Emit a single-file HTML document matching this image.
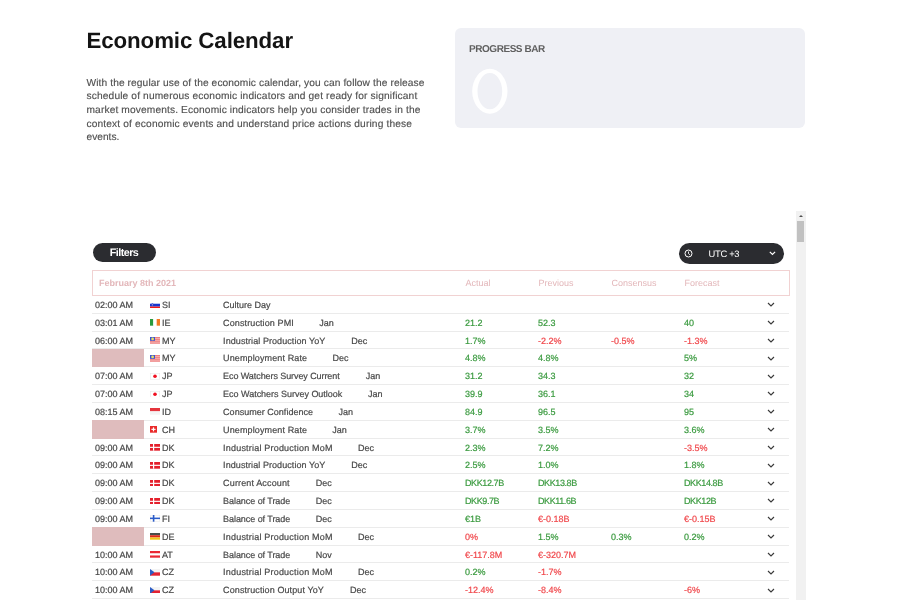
<!DOCTYPE html>
<html>
<head>
<meta charset="utf-8">
<style>
*{box-sizing:border-box;margin:0;padding:0}
#pg{position:absolute;left:0;top:0;width:900px;height:600px;will-change:transform}
html,body{width:900px;height:600px;overflow:hidden;background:#fff;font-family:"Liberation Sans",sans-serif;text-rendering:geometricPrecision}
#title{position:absolute;left:86.5px;top:27.7px;font-size:22.3px;letter-spacing:-0.1px;font-weight:bold;color:#141414;white-space:nowrap;line-height:26px}
#desc{position:absolute;left:86.5px;top:76.6px;font-size:10.2px;line-height:13.65px;color:#505050;white-space:nowrap;-webkit-text-stroke:0.15px}
#pb{position:absolute;left:454.5px;top:28px;width:350.8px;height:100.2px;background:#eff0f5;border-radius:6px}
#pb .lbl{position:absolute;left:14.5px;top:15.6px;font-size:10px;letter-spacing:-0.45px;font-weight:bold;color:#606060;line-height:12px;white-space:nowrap}
#pb .num{position:absolute;left:9.5px;top:34px}
#sb{position:absolute;left:795.5px;top:210.6px;width:10px;height:400px;background:#f1f1f1}
#sb .up{position:absolute;left:3.3px;top:4.1px;width:0;height:0;border-left:2px solid transparent;border-right:2px solid transparent;border-bottom:2.4px solid #505050}
#sb .th{position:absolute;left:1.2px;top:10.2px;width:7.3px;height:21.1px;background:#c1c1c1}
.btn{position:absolute;background:#2b2c30;color:#fff;white-space:nowrap}
#filters{left:92.5px;top:243px;width:63px;height:19px;border-radius:9.5px;padding-top:1px;font-size:10.8px;font-weight:bold;line-height:19px;text-align:center;letter-spacing:-0.55px}
#utc{left:679px;top:242.5px;width:105px;height:21px;border-radius:10.5px;font-size:9.4px;line-height:21px;letter-spacing:-0.3px}
#utc .lab{position:absolute;left:29.5px;top:0}
#utc svg{position:absolute}
#hdr{position:absolute;left:92px;top:269.5px;width:698px;height:26px;border:1px solid #f1d2d2;color:#e3b7ba;font-size:9px;line-height:24px;white-space:nowrap}
#hdr span{position:absolute;top:0}
#hdr .d{left:6px;font-weight:bold}
.row{position:absolute;left:92px;width:697px;height:17.83px;border-bottom:1px solid #ebebeb;font-size:9px;line-height:17px;color:#484848;white-space:nowrap}
.row span{position:absolute;top:1px;-webkit-text-stroke:0.2px}
.row .tm{left:3px}
.row .pk{position:absolute;left:0;top:-0.4px;width:52.4px;height:18.2px;background:#dfbcbd}
.row .fw{left:58px;top:5.5px;line-height:0}
.row .fl{display:block;height:6.7px}
.row .cd{left:70px}
.row .ev{left:131.1px}
.v.g{color:#3a9a3f}
.v.r{color:#f0484c}
.row .chev{position:absolute;left:674.6px;top:6.3px}
</style>
</head>
<body>
<div id="pg">
<div id="title">Economic Calendar</div>
<div id="desc"><div style="letter-spacing:0.1px">With the regular use of the economic calendar, you can follow the release</div><div style="letter-spacing:0.14px">schedule of numerous economic indicators and get ready for significant</div><div style="letter-spacing:0.13px">market movements. Economic indicators help you consider trades in the</div><div style="letter-spacing:0.14px">context of economic events and understand price actions during these</div><div>events.</div></div>
<div id="pb"><div class="lbl">PROGRESS BAR</div><svg class="num" width="52" height="58" viewBox="0 0 52 58"><path fill="#fff" fill-rule="evenodd" d="M8.2 29.25a17.65 22.45 0 1 0 35.3 0a17.65 22.45 0 1 0 -35.3 0Z M13.5 29.2a12.35 18.1 0 1 0 24.7 0a12.35 18.1 0 1 0 -24.7 0Z"/></svg></div>
<div id="sb"><div class="up"></div><div class="th"></div></div>
<div id="filters" class="btn">Filters</div>
<div id="utc" class="btn"><svg style="left:4.5px;top:6.3px" width="9" height="9" viewBox="0 0 9 9"><circle cx="4.5" cy="4.5" r="3.5" fill="none" stroke="#fff" stroke-width="1"/><path d="M4.5 2.5 V4.6 L5.9 5.8" fill="none" stroke="#fff" stroke-width="0.9"/></svg><span class="lab">UTC +3</span><svg style="left:90px;top:8.2px" width="7" height="5" viewBox="0 0 7 5"><path d="M0.8 0.9 L3.45 3.4 L6.1 0.9" fill="none" stroke="#fff" stroke-width="1.25"/></svg></div>
<div id="hdr"><span class="d">February 8th 2021</span><span style="left:372.5px">Actual</span><span style="left:445.5px">Previous</span><span style="left:518.5px">Consensus</span><span style="left:591.5px">Forecast</span></div>
<div class="row" style="top:296.00px"><span class="tm">02:00 AM</span><span class="fw"><svg class="fl" width="10" height="7" viewBox="0 0 10 7" preserveAspectRatio="none"><rect width="10" height="7" fill="#fff"/><rect y="1.8" width="10" height="3" fill="#1537d0"/><rect y="4.8" width="10" height="2.2" fill="#f01818"/><path d="M1.6 1.2 H3.2 V3.6 Q2.4 4.4 1.6 3.6Z" fill="#3a5ad8"/><circle cx="2.4" cy="2.9" r="0.55" fill="#e8b0c0"/></svg></span><span class="cd">SI</span><span class="ev">Culture Day</span><svg class="chev" width="8" height="5" viewBox="0 0 8 5"><path d="M1 1 L4 4 L7 1" fill="none" stroke="#3a3a3a" stroke-width="1.15"/></svg></div>
<div class="row" style="top:313.83px"><span class="tm">03:01 AM</span><span class="fw"><svg class="fl" width="10" height="7" viewBox="0 0 10 7" preserveAspectRatio="none"><rect width="3.33" height="7" fill="#2a9a3c"/><rect x="3.33" width="3.34" height="7" fill="#fff"/><rect x="6.67" width="3.33" height="7" fill="#f47a22"/></svg></span><span class="cd">IE</span><span class="ev" style="letter-spacing:0.11px">Construction PMI</span><span class="pe" style="left:227.3px">Jan</span><span class="v g" style="left:373px">21.2</span><span class="v g" style="left:446px">52.3</span><span class="v g" style="left:592px">40</span><svg class="chev" width="8" height="5" viewBox="0 0 8 5"><path d="M1 1 L4 4 L7 1" fill="none" stroke="#3a3a3a" stroke-width="1.15"/></svg></div>
<div class="row" style="top:331.66px"><span class="tm">06:00 AM</span><span class="fw"><svg class="fl" width="10" height="7" viewBox="0 0 10 7" preserveAspectRatio="none"><rect width="10" height="7" fill="#f4b4b4"/><rect y="0" width="10" height="0.8" fill="#ec7070"/><rect y="2" width="10" height="0.8" fill="#ec7070"/><rect y="4" width="10" height="0.8" fill="#ec7070"/><rect y="6" width="10" height="0.8" fill="#ec7070"/><rect width="5" height="4" fill="#3d55d0"/><circle cx="2.6" cy="2" r="1.4" fill="#e6e060"/></svg></span><span class="cd">MY</span><span class="ev" style="letter-spacing:0.07px">Industrial Production YoY</span><span class="pe" style="left:259.3px">Dec</span><span class="v g" style="left:373px">1.7%</span><span class="v r" style="left:446px">-2.2%</span><span class="v r" style="left:519px">-0.5%</span><span class="v r" style="left:592px">-1.3%</span><svg class="chev" width="8" height="5" viewBox="0 0 8 5"><path d="M1 1 L4 4 L7 1" fill="none" stroke="#3a3a3a" stroke-width="1.15"/></svg></div>
<div class="row" style="top:349.49px"><div class="pk"></div><span class="fw"><svg class="fl" width="10" height="7" viewBox="0 0 10 7" preserveAspectRatio="none"><rect width="10" height="7" fill="#f4b4b4"/><rect y="0" width="10" height="0.8" fill="#ec7070"/><rect y="2" width="10" height="0.8" fill="#ec7070"/><rect y="4" width="10" height="0.8" fill="#ec7070"/><rect y="6" width="10" height="0.8" fill="#ec7070"/><rect width="5" height="4" fill="#3d55d0"/><circle cx="2.6" cy="2" r="1.4" fill="#e6e060"/></svg></span><span class="cd">MY</span><span class="ev" style="letter-spacing:0.12px">Unemployment Rate</span><span class="pe" style="left:240.5px">Dec</span><span class="v g" style="left:373px">4.8%</span><span class="v g" style="left:446px">4.8%</span><span class="v g" style="left:592px">5%</span><svg class="chev" width="8" height="5" viewBox="0 0 8 5"><path d="M1 1 L4 4 L7 1" fill="none" stroke="#3a3a3a" stroke-width="1.15"/></svg></div>
<div class="row" style="top:367.32px"><span class="tm">07:00 AM</span><span class="fw"><svg class="fl" width="10" height="7" viewBox="0 0 10 7" preserveAspectRatio="none"><rect x="0.25" y="0.25" width="9.5" height="6.5" fill="#fff" stroke="#e4e4e4" stroke-width="0.5"/><circle cx="5" cy="3.5" r="1.8" fill="#f01020"/></svg></span><span class="cd">JP</span><span class="ev" style="letter-spacing:-0.08px">Eco Watchers Survey Current</span><span class="pe" style="left:273.8px">Jan</span><span class="v g" style="left:373px">31.2</span><span class="v g" style="left:446px">34.3</span><span class="v g" style="left:592px">32</span><svg class="chev" width="8" height="5" viewBox="0 0 8 5"><path d="M1 1 L4 4 L7 1" fill="none" stroke="#3a3a3a" stroke-width="1.15"/></svg></div>
<div class="row" style="top:385.15px"><span class="tm">07:00 AM</span><span class="fw"><svg class="fl" width="10" height="7" viewBox="0 0 10 7" preserveAspectRatio="none"><rect x="0.25" y="0.25" width="9.5" height="6.5" fill="#fff" stroke="#e4e4e4" stroke-width="0.5"/><circle cx="5" cy="3.5" r="1.8" fill="#f01020"/></svg></span><span class="cd">JP</span><span class="ev" style="letter-spacing:-0.02px">Eco Watchers Survey Outlook</span><span class="pe" style="left:276.0px">Jan</span><span class="v g" style="left:373px">39.9</span><span class="v g" style="left:446px">36.1</span><span class="v g" style="left:592px">34</span><svg class="chev" width="8" height="5" viewBox="0 0 8 5"><path d="M1 1 L4 4 L7 1" fill="none" stroke="#3a3a3a" stroke-width="1.15"/></svg></div>
<div class="row" style="top:402.98px"><span class="tm">08:15 AM</span><span class="fw"><svg class="fl" width="10" height="7" viewBox="0 0 10 7" preserveAspectRatio="none"><rect width="10" height="3.5" fill="#e5353d"/><rect y="3.5" width="10" height="3.5" fill="#f4f4f4"/></svg></span><span class="cd">ID</span><span class="ev" style="letter-spacing:0.02px">Consumer Confidence</span><span class="pe" style="left:246.5px">Jan</span><span class="v g" style="left:373px">84.9</span><span class="v g" style="left:446px">96.5</span><span class="v g" style="left:592px">95</span><svg class="chev" width="8" height="5" viewBox="0 0 8 5"><path d="M1 1 L4 4 L7 1" fill="none" stroke="#3a3a3a" stroke-width="1.15"/></svg></div>
<div class="row" style="top:420.81px"><div class="pk"></div><span class="fw"><svg class="fl" width="7" height="7" viewBox="0 0 7 7" preserveAspectRatio="none"><rect width="7" height="7" fill="#ea2a2a"/><rect x="2.9" y="1.4" width="1.2" height="4.2" fill="#fff"/><rect x="1.4" y="2.9" width="4.2" height="1.2" fill="#fff"/></svg></span><span class="cd">CH</span><span class="ev" style="letter-spacing:0.12px">Unemployment Rate</span><span class="pe" style="left:240.3px">Jan</span><span class="v g" style="left:373px">3.7%</span><span class="v g" style="left:446px">3.5%</span><span class="v g" style="left:592px">3.6%</span><svg class="chev" width="8" height="5" viewBox="0 0 8 5"><path d="M1 1 L4 4 L7 1" fill="none" stroke="#3a3a3a" stroke-width="1.15"/></svg></div>
<div class="row" style="top:438.64px"><span class="tm">09:00 AM</span><span class="fw"><svg class="fl" width="10" height="7" viewBox="0 0 10 7" preserveAspectRatio="none"><rect width="10" height="7" fill="#e4202c"/><rect x="3" width="1.2" height="7" fill="#fff"/><rect y="2.9" width="10" height="1.2" fill="#fff"/></svg></span><span class="cd">DK</span><span class="ev" style="letter-spacing:0.20px">Industrial Production MoM</span><span class="pe" style="left:266.0px">Dec</span><span class="v g" style="left:373px">2.3%</span><span class="v g" style="left:446px">7.2%</span><span class="v r" style="left:592px">-3.5%</span><svg class="chev" width="8" height="5" viewBox="0 0 8 5"><path d="M1 1 L4 4 L7 1" fill="none" stroke="#3a3a3a" stroke-width="1.15"/></svg></div>
<div class="row" style="top:456.47px"><span class="tm">09:00 AM</span><span class="fw"><svg class="fl" width="10" height="7" viewBox="0 0 10 7" preserveAspectRatio="none"><rect width="10" height="7" fill="#e4202c"/><rect x="3" width="1.2" height="7" fill="#fff"/><rect y="2.9" width="10" height="1.2" fill="#fff"/></svg></span><span class="cd">DK</span><span class="ev" style="letter-spacing:0.07px">Industrial Production YoY</span><span class="pe" style="left:259.3px">Dec</span><span class="v g" style="left:373px">2.5%</span><span class="v g" style="left:446px">1.0%</span><span class="v g" style="left:592px">1.8%</span><svg class="chev" width="8" height="5" viewBox="0 0 8 5"><path d="M1 1 L4 4 L7 1" fill="none" stroke="#3a3a3a" stroke-width="1.15"/></svg></div>
<div class="row" style="top:474.30px"><span class="tm">09:00 AM</span><span class="fw"><svg class="fl" width="10" height="7" viewBox="0 0 10 7" preserveAspectRatio="none"><rect width="10" height="7" fill="#e4202c"/><rect x="3" width="1.2" height="7" fill="#fff"/><rect y="2.9" width="10" height="1.2" fill="#fff"/></svg></span><span class="cd">DK</span><span class="ev" style="letter-spacing:0.14px">Current Account</span><span class="pe" style="left:223.7px">Dec</span><span class="v g" style="left:373px;letter-spacing:-0.40px">DKK12.7B</span><span class="v g" style="left:446px;letter-spacing:-0.40px">DKK13.8B</span><span class="v g" style="left:592px;letter-spacing:-0.40px">DKK14.8B</span><svg class="chev" width="8" height="5" viewBox="0 0 8 5"><path d="M1 1 L4 4 L7 1" fill="none" stroke="#3a3a3a" stroke-width="1.15"/></svg></div>
<div class="row" style="top:492.13px"><span class="tm">09:00 AM</span><span class="fw"><svg class="fl" width="10" height="7" viewBox="0 0 10 7" preserveAspectRatio="none"><rect width="10" height="7" fill="#e4202c"/><rect x="3" width="1.2" height="7" fill="#fff"/><rect y="2.9" width="10" height="1.2" fill="#fff"/></svg></span><span class="cd">DK</span><span class="ev" style="letter-spacing:-0.06px">Balance of Trade</span><span class="pe" style="left:223.7px">Dec</span><span class="v g" style="left:373px;letter-spacing:-0.40px">DKK9.7B</span><span class="v g" style="left:446px;letter-spacing:-0.40px">DKK11.6B</span><span class="v g" style="left:592px;letter-spacing:-0.40px">DKK12B</span><svg class="chev" width="8" height="5" viewBox="0 0 8 5"><path d="M1 1 L4 4 L7 1" fill="none" stroke="#3a3a3a" stroke-width="1.15"/></svg></div>
<div class="row" style="top:509.96px"><span class="tm">09:00 AM</span><span class="fw"><svg class="fl" width="10" height="7" viewBox="0 0 10 7" preserveAspectRatio="none"><rect x="0.25" y="0.25" width="9.5" height="6.5" fill="#fff" stroke="#e6e6e6" stroke-width="0.5"/><rect x="2.8" width="1.6" height="7" fill="#2a5bc8"/><rect y="2.7" width="10" height="1.6" fill="#2a5bc8"/></svg></span><span class="cd">FI</span><span class="ev" style="letter-spacing:-0.06px">Balance of Trade</span><span class="pe" style="left:223.7px">Dec</span><span class="v g" style="left:373px">€1B</span><span class="v r" style="left:446px">€-0.18B</span><span class="v r" style="left:592px">€-0.15B</span><svg class="chev" width="8" height="5" viewBox="0 0 8 5"><path d="M1 1 L4 4 L7 1" fill="none" stroke="#3a3a3a" stroke-width="1.15"/></svg></div>
<div class="row" style="top:527.79px"><div class="pk"></div><span class="fw"><svg class="fl" width="10" height="7" viewBox="0 0 10 7" preserveAspectRatio="none"><rect width="10" height="2.33" fill="#4a4f4a"/><rect y="2.33" width="10" height="2.34" fill="#dd2a1a"/><rect y="4.67" width="10" height="2.33" fill="#f2c618"/></svg></span><span class="cd">DE</span><span class="ev" style="letter-spacing:0.20px">Industrial Production MoM</span><span class="pe" style="left:266.0px">Dec</span><span class="v r" style="left:373px">0%</span><span class="v g" style="left:446px">1.5%</span><span class="v g" style="left:519px">0.3%</span><span class="v g" style="left:592px">0.2%</span><svg class="chev" width="8" height="5" viewBox="0 0 8 5"><path d="M1 1 L4 4 L7 1" fill="none" stroke="#3a3a3a" stroke-width="1.15"/></svg></div>
<div class="row" style="top:545.62px"><span class="tm">10:00 AM</span><span class="fw"><svg class="fl" width="10" height="7" viewBox="0 0 10 7" preserveAspectRatio="none"><rect width="10" height="7" fill="#fff"/><rect width="10" height="2.33" fill="#ea2834"/><rect y="4.67" width="10" height="2.33" fill="#ea2834"/></svg></span><span class="cd">AT</span><span class="ev" style="letter-spacing:-0.06px">Balance of Trade</span><span class="pe" style="left:223.7px">Nov</span><span class="v r" style="left:373px">€-117.8M</span><span class="v r" style="left:446px">€-320.7M</span><svg class="chev" width="8" height="5" viewBox="0 0 8 5"><path d="M1 1 L4 4 L7 1" fill="none" stroke="#3a3a3a" stroke-width="1.15"/></svg></div>
<div class="row" style="top:563.45px"><span class="tm">10:00 AM</span><span class="fw"><svg class="fl" width="10" height="7" viewBox="0 0 10 7" preserveAspectRatio="none"><rect width="10" height="3.5" fill="#f4f4f4"/><rect y="3.5" width="10" height="3.5" fill="#e32232"/><path d="M0 0 L4.5 3.5 L0 7Z" fill="#2c5cc4"/></svg></span><span class="cd">CZ</span><span class="ev" style="letter-spacing:0.20px">Industrial Production MoM</span><span class="pe" style="left:266.0px">Dec</span><span class="v g" style="left:373px">0.2%</span><span class="v r" style="left:446px">-1.7%</span><svg class="chev" width="8" height="5" viewBox="0 0 8 5"><path d="M1 1 L4 4 L7 1" fill="none" stroke="#3a3a3a" stroke-width="1.15"/></svg></div>
<div class="row" style="top:581.28px"><span class="tm">10:00 AM</span><span class="fw"><svg class="fl" width="10" height="7" viewBox="0 0 10 7" preserveAspectRatio="none"><rect width="10" height="3.5" fill="#f4f4f4"/><rect y="3.5" width="10" height="3.5" fill="#e32232"/><path d="M0 0 L4.5 3.5 L0 7Z" fill="#2c5cc4"/></svg></span><span class="cd">CZ</span><span class="ev" style="letter-spacing:0.10px">Construction Output YoY</span><span class="pe" style="left:258.0px">Dec</span><span class="v r" style="left:373px">-12.4%</span><span class="v r" style="left:446px">-8.4%</span><span class="v r" style="left:592px">-6%</span><svg class="chev" width="8" height="5" viewBox="0 0 8 5"><path d="M1 1 L4 4 L7 1" fill="none" stroke="#3a3a3a" stroke-width="1.15"/></svg></div>
</div>
</body>
</html>
